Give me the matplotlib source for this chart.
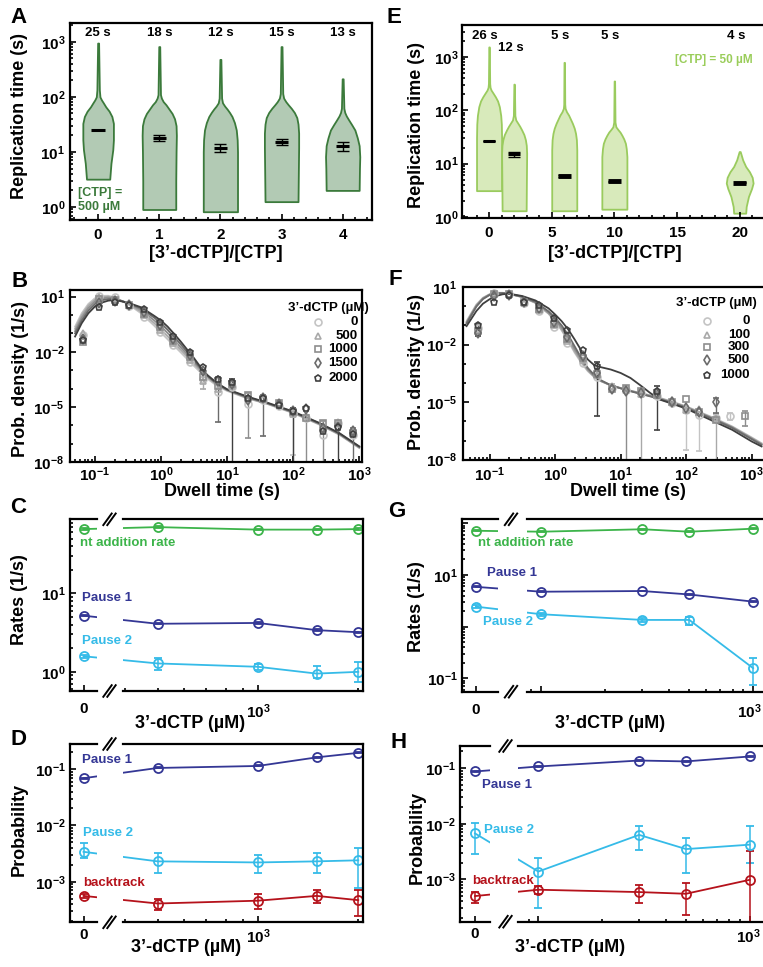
import numpy as np
import matplotlib
matplotlib.use("Agg")
import matplotlib.pyplot as plt
import matplotlib.transforms as mtransforms
from matplotlib.lines import Line2D
from matplotlib.ticker import (FixedLocator, FuncFormatter, LogLocator,
                               MultipleLocator, NullFormatter, NullLocator)

plt.rcParams["font.family"] = ["Liberation Sans", "DejaVu Sans"]
plt.rcParams["font.weight"] = "bold"
plt.rcParams["mathtext.fontset"] = "custom"
plt.rcParams["mathtext.rm"] = "Liberation Sans:bold"
plt.rcParams["mathtext.it"] = "Liberation Sans:bold"
plt.rcParams["mathtext.bf"] = "Liberation Sans:bold"
plt.rcParams["axes.linewidth"] = 1.6

# ---------------- data: panel A (CTP 500 uM) ----------------
a_pos = [0, 1, 2, 3, 4]
a_labels = ["25 s", "18 s", "12 s", "15 s", "13 s"]
a_med = [25, 18, 12, 15, 13]
a_err_lo = [0.0, 1.9, 1.9, 1.6, 2.4]
a_err_hi = [0.0, 2.4, 1.8, 2.0, 2.4]
# violin outlines: levels (s) and half widths
a_prof_y = [
    [3.2, 6.2, 11, 16.5, 33, 44, 55, 66, 78, 88, 100, 134, 950],
    [0.9, 3, 10, 20, 30, 40, 50, 60, 72, 82, 95, 110, 820],
    [0.82, 3, 10, 16.5, 25, 34, 44, 52, 60, 68, 78, 95, 480],
    [1.25, 4, 12, 22, 32, 42, 52, 62, 72, 82, 95, 115, 820],
    [2.0, 5, 8.2, 13, 18, 25, 31, 38, 45, 52, 62, 213],
]
a_prof_w = [
    [0.19, 0.21, 0.24, 0.25, 0.25, 0.225, 0.18, 0.125, 0.085, 0.055, 0.03, 0.02, 0.008],
    [0.27, 0.27, 0.275, 0.28, 0.275, 0.25, 0.21, 0.16, 0.11, 0.065, 0.035, 0.02, 0.008],
    [0.28, 0.28, 0.28, 0.275, 0.26, 0.23, 0.19, 0.15, 0.11, 0.07, 0.035, 0.02, 0.008],
    [0.27, 0.275, 0.28, 0.28, 0.27, 0.25, 0.21, 0.16, 0.11, 0.07, 0.035, 0.02, 0.008],
    [0.27, 0.275, 0.28, 0.27, 0.24, 0.2, 0.15, 0.1, 0.06, 0.035, 0.02, 0.008],
]

# ---------------- data: panel E (CTP 50 uM) ----------------
e_pos = [0, 2, 6, 10, 20]
e_labels = ["26 s", "12 s", "5 s", "5 s", "4 s"]
e_med = [26, 15, 5.8, 4.7, 4.4]
e_err_lo = [0.0, 1.5, 0.2, 0.1, 0.1]
e_err_hi = [0.0, 1.8, 0.2, 0.1, 0.1]
e_prof_y = [
    [3.1, 10, 30, 55, 80, 117, 150, 180, 210, 240, 270, 320, 1550],
    [1.3, 5, 15.6, 22, 28, 35, 43, 50, 57, 66, 80, 310],
    [1.3, 5, 18, 28, 37, 46, 57, 68, 81, 94, 109, 130, 795],
    [1.39, 5, 13.5, 19, 24, 29, 34, 39, 43, 49, 60, 355],
    [1.17, 1.56, 2.4, 3.4, 4.3, 5.5, 7.0, 8.8, 11.7, 15.7, 16.8],
]
e_prof_w = [
    [1.0, 1.0, 1.0, 0.98, 0.93, 0.82, 0.68, 0.5, 0.32, 0.16, 0.08, 0.05, 0.02],
    [0.96, 0.98, 1.0, 0.97, 0.9, 0.78, 0.6, 0.45, 0.3, 0.13, 0.06, 0.02],
    [1.0, 1.0, 1.0, 0.97, 0.9, 0.8, 0.65, 0.5, 0.35, 0.18, 0.07, 0.04, 0.02],
    [1.0, 1.0, 1.0, 0.95, 0.88, 0.75, 0.6, 0.45, 0.3, 0.12, 0.05, 0.02],
    [0.48, 0.52, 0.7, 0.95, 1.07, 1.0, 0.78, 0.48, 0.24, 0.08, 0.04],
]

# ---------------- data: dwell time distributions (B, F) ----------------
dwell_x = [0.067, 0.116, 0.2, 0.33, 0.56, 0.97, 1.53, 2.7, 4.3, 7.3,
           11.9, 20.7, 35.5, 60, 100, 158, 282, 473, 794]
nan = np.nan
b_names = ["0", "500", "1000", "1500", "2000"]
b_y = [
    [0.083, 10.9, 9.2, 3.1, 0.82, 0.125, 0.024, 2.9e-3, 3.2e-4, 6.1e-5, 1.2e-4, 1.5e-5, 2.4e-5, 1.1e-5, 4.6e-6, 2.4e-6, 3.0e-7, 1.4e-6, 3.0e-7],
    [0.11, 9.5, 7.5, 3.3, 1.0, 0.16, 0.03, 3.6e-3, 2.5e-4, 9e-5, 1.4e-4, 2.6e-5, 3.2e-5, 1.5e-5, 4.2e-6, 3.2e-6, 6e-7, 1.5e-6, 5e-7],
    [0.035, 7.5, 6.5, 3.3, 1.2, 0.21, 0.04, 5e-3, 4.5e-4, 1.4e-4, 1.7e-4, 4.6e-5, 2.8e-5, 1.7e-5, 5e-6, 2.6e-6, 1.3e-6, 1.3e-6, 4e-7],
    [0.05, 4.5, 5.5, 3.4, 1.5, 0.3, 0.052, 7e-3, 9e-4, 2.6e-4, 1.8e-4, 2.5e-5, 3.2e-5, 1.4e-5, 6e-6, 7.5e-6, 7e-7, 8.5e-7, 4.6e-7],
    [0.045, 2.6, 5.2, 3.6, 2.0, 0.43, 0.072, 0.01, 1.4e-3, 3.4e-4, 2.4e-4, 3e-5, 3e-5, 1.3e-5, 6.3e-6, 8.5e-6, 5e-7, 8e-7, 3.5e-7],
]
b_lo = [
    [nan]*14 + [2.5e-8, nan, nan, nan, nan],
    [nan]*8 + [1.0e-4] + [nan]*10,
    [nan]*11 + [2e-7, nan, nan, nan, 1e-9, 1e-9, nan, nan],
    [nan]*9 + [1.6e-6, nan, nan, 2.5e-7, nan, nan, nan, nan, nan, 1e-9],
    [nan]*10 + [1e-9, nan, nan, nan, 1e-9, nan, nan, 1e-9, nan],
]
b_hi = [
    [nan]*14 + [6e-6, nan, nan, nan, nan],
    [nan]*8 + [4e-4] + [nan]*10,
    [nan]*11 + [6e-5, nan, nan, nan, 3.5e-6, 1.8e-6, nan, nan],
    [nan]*9 + [4.5e-4, nan, nan, 4.5e-5, nan, nan, nan, nan, nan, 7e-7],
    [nan]*10 + [3.5e-4, nan, nan, nan, 9e-6, nan, nan, 1.1e-6, nan],
]
# fitted curves (log10 x, log10 y)
cb_lx = [-1.3, -1.2, -1.1, -1.0, -0.9, -0.8, -0.7, -0.5, -0.3, -0.1, 0.0, 0.1, 0.2,
         0.3, 0.4, 0.5, 0.6, 0.7, 0.85, 1.0, 1.3, 1.6, 2.0, 2.4, 2.7, 3.0]
cb_ly = [
    [-0.63, 0.09, 0.6, 0.91, 1.04, 1.05, 0.96, 0.6, 0.09, -0.59, -0.96, -1.32, -1.68, -2.04, -2.41, -2.77, -3.13, -3.46, -3.86, -4.13, -4.53, -4.83, -5.34, -5.97, -6.52, -7.24],
    [-0.75, -0.02, 0.5, 0.83, 0.97, 1.0, 0.93, 0.62, 0.18, -0.45, -0.8, -1.16, -1.53, -1.9, -2.28, -2.66, -3.03, -3.38, -3.81, -4.1, -4.51, -4.82, -5.32, -5.95, -6.5, -7.22],
    [-0.88, -0.15, 0.38, 0.73, 0.9, 0.95, 0.9, 0.64, 0.28, -0.3, -0.62, -0.98, -1.37, -1.76, -2.16, -2.56, -2.95, -3.33, -3.78, -4.08, -4.49, -4.8, -5.3, -5.93, -6.48, -7.2],
    [-1.0, -0.3, 0.24, 0.6, 0.8, 0.87, 0.87, 0.66, 0.36, -0.15, -0.45, -0.8, -1.2, -1.6, -2.03, -2.46, -2.9, -3.3, -3.75, -4.06, -4.46, -4.78, -5.28, -5.9, -6.45, -7.17],
    [-1.17, -0.45, 0.09, 0.46, 0.67, 0.78, 0.82, 0.67, 0.42, -0.05, -0.30, -0.63, -1.03, -1.45, -1.9, -2.35, -2.84, -3.26, -3.71, -4.04, -4.43, -4.76, -5.25, -5.88, -6.43, -7.15],
]

f_names = ["0", "100", "300", "500", "1000"]
f_y = [
    [0.075, 5.0, 4.5, 1.5, 0.56, 0.081, 0.012, 1.1e-3, 2e-4, 5.5e-5, 4.5e-5, 3e-5, 2.2e-5, 9e-6, 4e-6, 2.2e-6, 1.5e-6, 1.8e-6, nan],
    [0.06, 4.6, 4.3, 1.5, 0.62, 0.1, 0.016, 1.5e-3, 2.5e-4, 6.8e-5, 4.2e-5, 2.8e-5, 2.6e-5, 1.3e-5, 4e-6, 4.6e-6, 1.5e-6, nan, nan],
    [0.05, 4.2, 4.3, 1.6, 0.7, 0.12, 0.02, 2e-3, 3e-4, 5e-5, 5.2e-5, 3.6e-5, 2.4e-5, 1e-5, 1.5e-5, 3e-6, 1.2e-6, nan, 1.8e-6],
    [0.04, 3.2, 4.0, 1.6, 0.8, 0.15, 0.026, 2.6e-3, 3.5e-4, 5e-5, 4e-5, 3e-5, 3e-5, 1e-5, 5e-6, 3e-6, 1e-5, nan, nan],
    [0.1, 1.7, 4.0, 1.7, 1.2, 0.25, 0.06, 5e-3, 8e-4, nan, nan, nan, 4e-5, nan, nan, nan, nan, nan, nan],
]
f_lo = [
    [nan]*14 + [3.3e-8, 2.7e-8, nan, 1.2e-6, nan],
    [nan]*9 + [4.5e-5, nan, 1e-9, nan, nan, nan, nan, 1e-9, nan, nan],
    [nan]*10 + [1e-9] + [nan]*7 + [5.5e-7],
    [nan]*16 + [2.7e-6, nan, nan],
    [0.027] + [nan]*7 + [1.8e-6, nan, nan, nan, 3.6e-7] + [nan]*6,
]
f_hi = [
    [nan]*14 + [6e-6, 3.2e-6, nan, 2.6e-6, nan],
    [nan]*9 + [9e-5, nan, 4.5e-5, nan, nan, nan, nan, 2.5e-6, nan, nan],
    [nan]*10 + [7e-5] + [nan]*7 + [3.3e-6],
    [nan]*16 + [1.6e-5, nan, nan],
    [0.12] + [nan]*7 + [1.2e-3, nan, nan, nan, 6.8e-5] + [nan]*6,
]
cf_lx = [-1.35, -1.2, -1.1, -1.0, -0.9, -0.8, -0.7, -0.5, -0.3, -0.1, 0.0, 0.1, 0.2, 0.3, 0.4,
         0.5, 0.6, 0.7, 0.85, 1.0, 1.15, 1.3, 1.45, 1.6, 1.8, 2.0, 2.4, 2.7, 3.0, 3.15]
cf_ly = [
    [-0.78, 0.09, 0.44, 0.62, 0.70, 0.70, 0.65, 0.48, 0.18, -0.39, -0.78, -1.26, -1.82, -2.43, -2.95, -3.39, -3.70, -3.91, -4.12, -4.26, -4.40, -4.52, -4.64, -4.78, -4.99, -5.22, -5.79, -6.26, -6.84, -7.14],
    [-0.82, 0.05, 0.42, 0.61, 0.69, 0.69, 0.64, 0.47, 0.17, -0.38, -0.75, -1.22, -1.76, -2.36, -2.89, -3.35, -3.68, -3.90, -4.12, -4.27, -4.41, -4.53, -4.66, -4.80, -5.01, -5.24, -5.82, -6.29, -6.87, -7.17],
    [-0.86, 0.02, 0.4, 0.6, 0.68, 0.69, 0.64, 0.48, 0.2, -0.33, -0.68, -1.12, -1.64, -2.24, -2.8, -3.3, -3.66, -3.9, -4.13, -4.28, -4.42, -4.55, -4.68, -4.82, -5.03, -5.26, -5.84, -6.31, -6.9, -7.2],
    [-0.9, -0.02, 0.37, 0.58, 0.67, 0.68, 0.64, 0.5, 0.23, -0.27, -0.6, -1.0, -1.5, -2.1, -2.7, -3.22, -3.6, -3.86, -4.12, -4.28, -4.43, -4.57, -4.7, -4.85, -5.06, -5.29, -5.87, -6.34, -6.93, -7.23],
    [-1.04, -0.25, 0.13, 0.36, 0.53, 0.62, 0.65, 0.53, 0.30, -0.11, -0.43, -0.78, -1.21, -1.74, -2.31, -2.78, -3.08, -3.18, -3.30, -3.48, -3.74, -4.12, -4.52, -4.87, -5.10, -5.34, -5.97, -6.44, -7.05, -7.31],
]

# ---------------- data: rates and probabilities (C, D, G, H) ----------------
c_x = [0, 500, 1000, 1500, 2000]
c_nt = [66, 70, 65, 65, 66]
c_p1 = [5.2, 4.1, 4.2, 3.4, 3.2]
c_p2 = [1.58, 1.28, 1.16, 0.95, 1.0]
c_p2_lo = [1.5, 1.06, 1.06, 0.83, 0.75]
c_p2_hi = [1.66, 1.5, 1.26, 1.17, 1.32]

d_p1 = [0.069, 0.105, 0.114, 0.162, 0.195]
d_p2 = [3.4e-3, 2.3e-3, 2.2e-3, 2.3e-3, 2.4e-3]
d_p2_lo = [2.6e-3, 1.4e-3, 1.4e-3, 1.4e-3, 7.6e-4]
d_p2_hi = [4.8e-3, 3.3e-3, 3.0e-3, 3.2e-3, 4.0e-3]
d_bt = [5.6e-4, 4.1e-4, 4.6e-4, 5.6e-4, 4.7e-4]
d_bt_lo = [5.2e-4, 3.1e-4, 3.3e-4, 4.2e-4, 2.5e-4]
d_bt_hi = [6.0e-4, 5.0e-4, 6.1e-4, 7.0e-4, 7.0e-4]

g_x = [0, 100, 300, 500, 1000]
g_nt = [72, 69, 77, 69, 79]
g_p1 = [5.9, 4.75, 4.9, 4.2, 3.05]
g_p2 = [2.44, 1.74, 1.35, 1.35, 0.157]
g_p2_lo = [2.3, 1.62, 1.23, 1.1, 0.074]
g_p2_hi = [2.58, 1.86, 1.47, 1.55, 0.245]

h_p1 = [0.087, 0.107, 0.137, 0.132, 0.162]
h_p2 = [6.7e-3, 1.38e-3, 6.3e-3, 3.5e-3, 4.2e-3]
h_p2_lo = [2.9e-3, 3.0e-4, 3.4e-3, 1.3e-3, 2.0e-3]
h_p2_hi = [1.02e-2, 2.4e-3, 9.1e-3, 5.6e-3, 9.1e-3]
h_bt = [5.0e-4, 6.5e-4, 5.9e-4, 5.5e-4, 9.8e-4]
h_bt_lo = [3.8e-4, 5.5e-4, 3.8e-4, 2.3e-4, 1e-5]
h_bt_hi = [6.0e-4, 7.5e-4, 7.8e-4, 8.7e-4, 3.2e-3]

# colours
A_FACE, A_EDGE = "#b2cab4", "#3b7a3b"
E_FACE, E_EDGE, E_TEXT = "#d8eabb", "#9acb5e", "#9acd5a"
GREYS = ["#c4c4c4", "#a9a9a9", "#8e8e8e", "#6b6b6b", "#3f3f3f"]
MARKS = ["o", "^", "s", "d", "p"]
C_NT, C_P1, C_P2, C_BT = "#3cb44a", "#343795", "#35bbe8", "#b5121b"

W, H = 763, 967
fig = plt.figure(figsize=(W / 100, H / 100), dpi=100)


def px_axes(x0, x1, y0, y1):
    return fig.add_axes([x0 / W, 1 - y1 / H, (x1 - x0) / W, (y1 - y0) / H])


def ftext(x, y, s, **kw):
    fig.text(x / W, 1 - y / H, s, **kw)


def pow10_only(keep):
    def f(v, pos):
        e = int(np.round(np.log10(v)))
        return r"$\mathrm{10^{%d}}$" % e if e in keep else ""
    return FuncFormatter(f)


def style(ax, xpad=4, ypad=3):
    ax.tick_params(which="both", direction="in", top=False, right=False,
                   width=1.2, labelsize=11)
    ax.tick_params(which="major", length=4.5)
    ax.tick_params(which="minor", length=2.5)
    ax.tick_params(axis="x", pad=xpad)
    ax.tick_params(axis="y", pad=ypad)


def log_y(ax, keep):
    ax.yaxis.set_major_locator(LogLocator(base=10))
    ax.yaxis.set_minor_locator(LogLocator(base=10, subs=np.arange(2, 10)))
    ax.yaxis.set_major_formatter(pow10_only(keep))
    ax.yaxis.set_minor_formatter(NullFormatter())


# ---------------- A ----------------
axA = px_axes(70, 372, 23, 220)
axA.set_yscale("log")
for x, ys, ws in zip(a_pos, a_prof_y, a_prof_w):
    ws = np.asarray(ws)
    axA.fill_betweenx(ys, x - ws, x + ws, facecolor=A_FACE, edgecolor=A_EDGE, lw=1.3)
axA.hlines(a_med, np.array(a_pos) - 0.11, np.array(a_pos) + 0.11, colors="k", lw=2.2)
axA.errorbar(a_pos, a_med, yerr=[a_err_lo, a_err_hi], fmt="none", ecolor="k",
             elinewidth=1.0, capsize=4.3, capthick=1.0)
for x, s in zip(a_pos, a_labels):
    axA.text(x, 0.949, s, transform=axA.get_xaxis_transform(), ha="center",
             va="center", fontsize=9.5)
axA.set_xlim(-0.46, 4.48)
axA.set_ylim(0.58, 2200)
axA.set_xticks(a_pos)
axA.xaxis.set_minor_locator(MultipleLocator(0.2))
log_y(axA, [0, 1, 2, 3])
style(axA, xpad=6, ypad=3.5)
ftext(78, 200, "[CTP] =\n500 µM", color=A_EDGE, fontsize=9, ha="left",
      va="center", linespacing=1.2)

# ---------------- E ----------------
axE = px_axes(462, 766, 25, 218)
axE.set_yscale("log")
e_lw = [2.2, 2.2, 3.5, 3.5, 3.5]
for x, ys, ws in zip(e_pos, e_prof_y, e_prof_w):
    ws = np.asarray(ws)
    axE.fill_betweenx(ys, x - ws, x + ws, facecolor=E_FACE, edgecolor=E_EDGE, lw=1.3)
for x, m, lw in zip(e_pos, e_med, e_lw):
    axE.hlines(m, x - 0.5, x + 0.5, colors="k", lw=lw)
axE.errorbar(e_pos, e_med, yerr=[e_err_lo, e_err_hi], fmt="none", ecolor="k",
             elinewidth=1.0, capsize=4.3, capthick=1.0)
e_ly = [0.943, 0.883, 0.943, 0.943, 0.943]
for x, s, yy in zip(e_pos, e_labels, e_ly):
    axE.text(x - 0.3, yy, s, transform=axE.get_xaxis_transform(), ha="center",
             va="center", fontsize=9.5)
axE.set_xlim(-2.16, 22.1)
axE.set_ylim(0.95, 4000)
axE.xaxis.set_major_locator(MultipleLocator(5))
axE.xaxis.set_minor_locator(MultipleLocator(1))
log_y(axE, [0, 1, 2, 3])
style(axE, xpad=6, ypad=2.5)
ftext(753, 60, "[CTP] = 50 µM", color=E_TEXT, fontsize=8.5, ha="right", va="center")


# ---------------- B and F ----------------
def dwell_panel(ax, names, ys, los, his, cx, cys, xlim, ylim, xpad):
    ax.set_xscale("log")
    ax.set_yscale("log")
    for cy, col in zip(cys, GREYS):
        ax.plot(np.power(10.0, cx), np.power(10.0, cy), color=col, lw=1.3)
    for y, lo, hi, col, mk in zip(ys, los, his, GREYS, MARKS):
        y = np.asarray(y, float)
        yerr = [y - np.asarray(lo, float), np.asarray(hi, float) - y]
        ax.errorbar(dwell_x, y, yerr=yerr, fmt=mk, ms=5, mfc="none", mec=col,
                    mew=1.2, ecolor=col, elinewidth=1.0, capsize=2.5, capthick=1.0)
    ax.set_xlim(*xlim)
    ax.set_ylim(*ylim)
    ax.xaxis.set_major_locator(LogLocator(base=10))
    ax.xaxis.set_minor_locator(LogLocator(base=10, subs=np.arange(2, 10)))
    ax.xaxis.set_major_formatter(pow10_only([-1, 0, 1, 2, 3]))
    ax.xaxis.set_minor_formatter(NullFormatter())
    ax.yaxis.set_major_locator(FixedLocator([1e-8, 1e-5, 1e-2, 1e1]))
    ax.yaxis.set_minor_locator(FixedLocator([10.0 ** k for k in range(-8, 2)]))
    ax.yaxis.set_major_formatter(pow10_only([-8, -5, -2, 1]))
    ax.yaxis.set_minor_formatter(NullFormatter())
    style(ax, xpad=xpad, ypad=4)


def dwell_legend(title_xy, mark_x, num_x, rows, names):
    ftext(title_xy[0], title_xy[1], "3’-dCTP (µM)", fontsize=9.5, ha="center", va="center")
    for r, nm, col, mk in zip(rows, names, GREYS, MARKS):
        fig.add_artist(Line2D([mark_x / W], [1 - r / H], marker=mk, ms=5, mfc="none",
                              mec=col, mew=1.2, ls="none"))
        ftext(num_x, r, nm, fontsize=9.5, ha="right", va="center")


axB = px_axes(70, 362, 290, 462)
dwell_panel(axB, b_names, b_y, b_lo, b_hi, cb_lx, cb_ly, (0.042, 1100), (1e-8, 23), 2.5)
dwell_legend((328, 308), 318, 358, [321.7, 336, 349.3, 363.3, 377.7], b_names)

axF = px_axes(462.7, 766, 287, 459.7)
dwell_panel(axF, f_names, f_y, f_lo, f_hi, cf_lx, cf_ly, (0.039, 1650), (1e-8, 10), 4)
dwell_legend((716.7, 303), 706.7, 750, [320.7, 335, 347.3, 360, 375], f_names)


# ---------------- broken axes C, D, G, H ----------------
def broken_axes(lx, rx, ytop, ybot, xl_lim, xr_lim, ylim, keep, xpad, shift=0):
    axl = px_axes(lx[0], lx[1], ytop, ybot)
    axr = px_axes(rx[0], rx[1], ytop, ybot)
    for ax in (axl, axr):
        ax.set_yscale("log")
        ax.set_ylim(*ylim)
    axl.set_xlim(*xl_lim)
    axr.set_xscale("log")
    axr.set_xlim(*xr_lim)
    axl.spines["right"].set_visible(False)
    axr.spines["left"].set_visible(False)
    log_y(axl, keep)
    axl.xaxis.set_major_locator(FixedLocator([0]))
    axl.xaxis.set_major_formatter(FuncFormatter(lambda v, p: "0"))
    axl.xaxis.set_minor_locator(NullLocator())
    axr.xaxis.set_major_locator(FixedLocator([100, 1000]))
    axr.xaxis.set_minor_locator(LogLocator(base=10, subs=np.arange(2, 10)))
    axr.xaxis.set_major_formatter(pow10_only([3]))
    axr.xaxis.set_minor_formatter(NullFormatter())
    style(axl, xpad=xpad, ypad=3)
    style(axr, xpad=xpad, ypad=3)
    axr.tick_params(axis="y", which="both", left=False, labelleft=False)
    if shift:
        off = mtransforms.ScaledTranslation(shift / 100, 0, fig.dpi_scale_trans)
        for lab in axr.xaxis.get_majorticklabels():
            lab.set_transform(lab.get_transform() + off)
    return axl, axr


def broken_series(axl, axr, x, y, lo, hi, color):
    x = np.asarray(x, float)
    y = np.asarray(y, float)
    yerr = np.array([y - np.asarray(lo, float), np.asarray(hi, float) - y])
    p_r = axr.transData.transform((x[1], y[1]))
    p_l = axl.transData.transform((x[0], y[0]))
    xl_end = axl.transData.inverted().transform(p_r)[0]
    xr_start = axr.transData.inverted().transform(p_l)[0]
    axl.plot([x[0], xl_end], [y[0], y[1]], color=color, lw=1.3)
    axr.plot(np.r_[xr_start, x[1:]], y, color=color, lw=1.3)
    kw = dict(fmt="o", ms=6.5, mfc="none", mec=color, mew=1.3, ecolor=color,
              elinewidth=1.1, capsize=3, capthick=1.1)
    axl.errorbar(x[:1], y[:1], yerr=yerr[:, :1], **kw)
    axr.errorbar(x[1:], y[1:], yerr=yerr[:, 1:], **kw)


def small_err(v, f=0.02):
    v = np.asarray(v, float)
    return v * (1 - f), v * (1 + f)


def break_marks(xc, ys):
    for yc in ys:
        for off in (-2, 2):
            fig.add_artist(Line2D([(xc + off - 4.2) / W, (xc + off + 4.2) / W],
                                  [1 - (yc + 5.8) / H, 1 - (yc - 5.8) / H],
                                  color="k", lw=1.4))


# C
cl, cr = broken_axes((70, 97), (123, 363), 519.3, 691, (-1, 1), (394, 2066),
                     (0.57, 88), [0, 1], 8)
broken_series(cl, cr, c_x, c_nt, *small_err(c_nt), C_NT)
broken_series(cl, cr, c_x, c_p1, *small_err(c_p1), C_P1)
broken_series(cl, cr, c_x, c_p2, c_p2_lo, c_p2_hi, C_P2)
break_marks(109.5, [519.3, 691])
ftext(80, 543.3, "nt addition rate", color=C_NT, fontsize=9.5, va="center")
ftext(81.7, 598.3, "Pause 1", color=C_P1, fontsize=9.5, va="center")
ftext(81.7, 640.7, "Pause 2", color=C_P2, fontsize=9.5, va="center")

# D
dl, dr = broken_axes((70, 97), (123, 363), 744, 922.3, (-1, 1), (394, 2066),
                     (1.9e-4, 0.28), [-3, -2, -1], 4)
broken_series(dl, dr, c_x, d_p1, *small_err(d_p1), C_P1)
broken_series(dl, dr, c_x, d_p2, d_p2_lo, d_p2_hi, C_P2)
broken_series(dl, dr, c_x, d_bt, d_bt_lo, d_bt_hi, C_BT)
break_marks(109.5, [744, 922.3])
ftext(81.7, 760, "Pause 1", color=C_P1, fontsize=9.5, va="center")
ftext(82.7, 832.7, "Pause 2", color=C_P2, fontsize=9.5, va="center")
ftext(82.7, 883.3, "backtrack", color=C_BT, fontsize=9.5, va="center")

# G
gl, gr = broken_axes((461.7, 498.3), (526.7, 766), 519.3, 691.7, (-0.9, 1.4),
                     (85.5, 1150), (0.055, 120), [-1, 1], 8, shift=-4)
broken_series(gl, gr, g_x, g_nt, *small_err(g_nt), C_NT)
broken_series(gl, gr, g_x, g_p1, *small_err(g_p1), C_P1)
broken_series(gl, gr, g_x, g_p2, g_p2_lo, g_p2_hi, C_P2)
break_marks(511, [519.3, 691.7])
ftext(478.3, 543.3, "nt addition rate", color=C_NT, fontsize=9.5, va="center")
ftext(486.7, 573.3, "Pause 1", color=C_P1, fontsize=9.5, va="center")
ftext(483.3, 621.7, "Pause 2", color=C_P2, fontsize=9.5, va="center")

# H
hl, hr = broken_axes((460, 490), (518.3, 766), 746, 921.7, (-1, 1),
                     (80.4, 1195), (1.73e-4, 0.25), [-3, -2, -1], 4, shift=-1)
broken_series(hl, hr, g_x, h_p1, *small_err(h_p1), C_P1)
broken_series(hl, hr, g_x, h_p2, h_p2_lo, h_p2_hi, C_P2)
broken_series(hl, hr, g_x, h_bt, h_bt_lo, h_bt_hi, C_BT)
break_marks(505.5, [746, 921.7])
ftext(481.7, 785, "Pause 1", color=C_P1, fontsize=9.5, va="center")
ftext(484, 830, "Pause 2", color=C_P2, fontsize=9.5, va="center")
ftext(471.7, 881, "backtrack", color=C_BT, fontsize=9.5, va="center")

# ---------------- axis labels and panel letters ----------------
LAB = dict(fontsize=13, ha="center", va="center")
ftext(20, 116, "Replication time (s)", rotation=90, **LAB)
ftext(216, 254, "[3’-dCTP]/[CTP]", **LAB)
ftext(416, 125, "Replication time (s)", rotation=90, **LAB)
ftext(615, 254, "[3’-dCTP]/[CTP]", **LAB)
ftext(21, 379, "Prob. density (1/s)", rotation=90, **LAB)
ftext(222, 491, "Dwell time (s)", **LAB)
ftext(417, 372, "Prob. density (1/s)", rotation=90, **LAB)
ftext(628, 491, "Dwell time (s)", **LAB)
ftext(20, 600, "Rates (1/s)", rotation=90, **LAB)
ftext(190, 723, "3’-dCTP (µM)", **LAB)
ftext(417, 607, "Rates (1/s)", rotation=90, **LAB)
ftext(610, 723, "3’-dCTP (µM)", **LAB)
ftext(19, 829, "Probability", rotation=90, **LAB)
ftext(186, 947, "3’-dCTP (µM)", **LAB)
ftext(417, 837, "Probability", rotation=90, **LAB)
ftext(570, 947, "3’-dCTP (µM)", **LAB)

for letter, x, y in [("A", 10, 23), ("E", 387, 23), ("B", 12, 287), ("F", 388, 285),
                     ("C", 10, 513), ("G", 388, 517), ("D", 10, 745), ("H", 390, 748)]:
    ftext(x, y, letter, fontsize=16, ha="left", va="baseline")

fig.savefig("out.png", dpi=100)
